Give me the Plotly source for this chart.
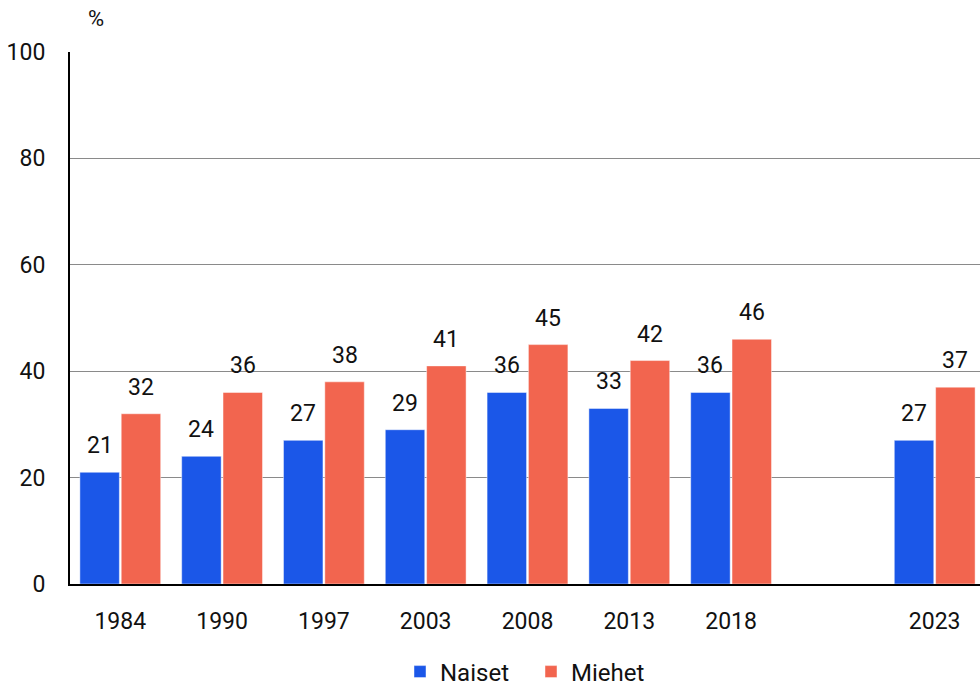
import plotly.graph_objects as go

years = ["1984", "1990", "1997", "2003", "2008", "2013", "2018", "", "2023"]
naiset = [21, 24, 27, 29, 36, 33, 36, None, 27]
miehet = [32, 36, 38, 41, 45, 42, 46, None, 37]
y_ticks = [0, 20, 40, 60, 80, 100]

FONT = "Roboto"
BLUE = "#1B57E8"
RED = "#F2654F"
TXT = "#111111"
FS = 23

W, H = 980, 688
ML, MR, MT, MB = 70, 0, 52, 104
BARGAP, GROUPGAP = 0.188, 0.045
PW = W - ML - MR
PH = H - MT - MB
X_RANGE = [-0.494, 8.445]   # last category is clipped by the right edge, as in the reference

pos = list(range(len(years)))

fig = go.Figure()
for name, vals, col in [("Naiset", naiset, BLUE), ("Miehet", miehet, RED)]:
    fig.add_trace(go.Bar(
        name=name, x=pos, y=vals, marker_color=col,
        marker_line=dict(color="rgba(255,255,255,0.45)", width=1),
    ))

# value labels above bars
unit = PW / (X_RANGE[1] - X_RANGE[0])
slot = unit * (1 - BARGAP) / 2
anns = []
for vals, sh in [(naiset, -slot / 2), (miehet, slot / 2)]:
    for i, v in zip(pos, vals):
        if v is None:
            continue
        anns.append(dict(x=i, y=v, xref="x", yref="y", text=str(v), showarrow=False,
                         xanchor="center", yanchor="bottom", xshift=round(sh, 1), yshift=11,
                         font=dict(family=FONT, size=FS, color=TXT)))
anns.append(dict(text="%", xref="paper", yref="paper", x=(96 - ML) / PW,
                 y=(H - MB - 18) / PH, xanchor="center", yanchor="middle", showarrow=False,
                 font=dict(family=FONT, size=FS - 1, color=TXT)))

fig.update_layout(
    width=W, height=H,
    margin=dict(l=ML, r=MR, t=MT, b=MB, autoexpand=False),
    paper_bgcolor="white", plot_bgcolor="white",
    barmode="group", bargap=BARGAP, bargroupgap=GROUPGAP,
    font=dict(family=FONT, size=FS, color=TXT),
    showlegend=True,
    legend=dict(orientation="h", x=(400 - ML) / PW, xanchor="left",
                y=-(672 - (H - MB)) / PH, yanchor="middle",
                font=dict(family=FONT, size=FS + 1, color=TXT),
                itemwidth=30, entrywidth=86, entrywidthmode="pixels",
                traceorder="normal"),
    xaxis=dict(range=X_RANGE, tickvals=pos, ticktext=years,
               showgrid=False, showline=True, linecolor="black", linewidth=2,
               zeroline=False, ticks="", tickfont=dict(family=FONT, size=FS, color=TXT),
               ticklabelstandoff=15, automargin=False),
    yaxis=dict(range=[0, 100], tickvals=y_ticks, showgrid=True, gridcolor="#8a8a8a",
               gridwidth=1, showline=True, linecolor="black", linewidth=2,
               zeroline=False, ticks="", ticklabelstandoff=18, automargin=False,
               tickfont=dict(family=FONT, size=FS, color=TXT)),
    annotations=anns,
)

fig.write_html("out.html", config={"displayModeBar": False},
               post_script="document.body.style.margin='0px';")
